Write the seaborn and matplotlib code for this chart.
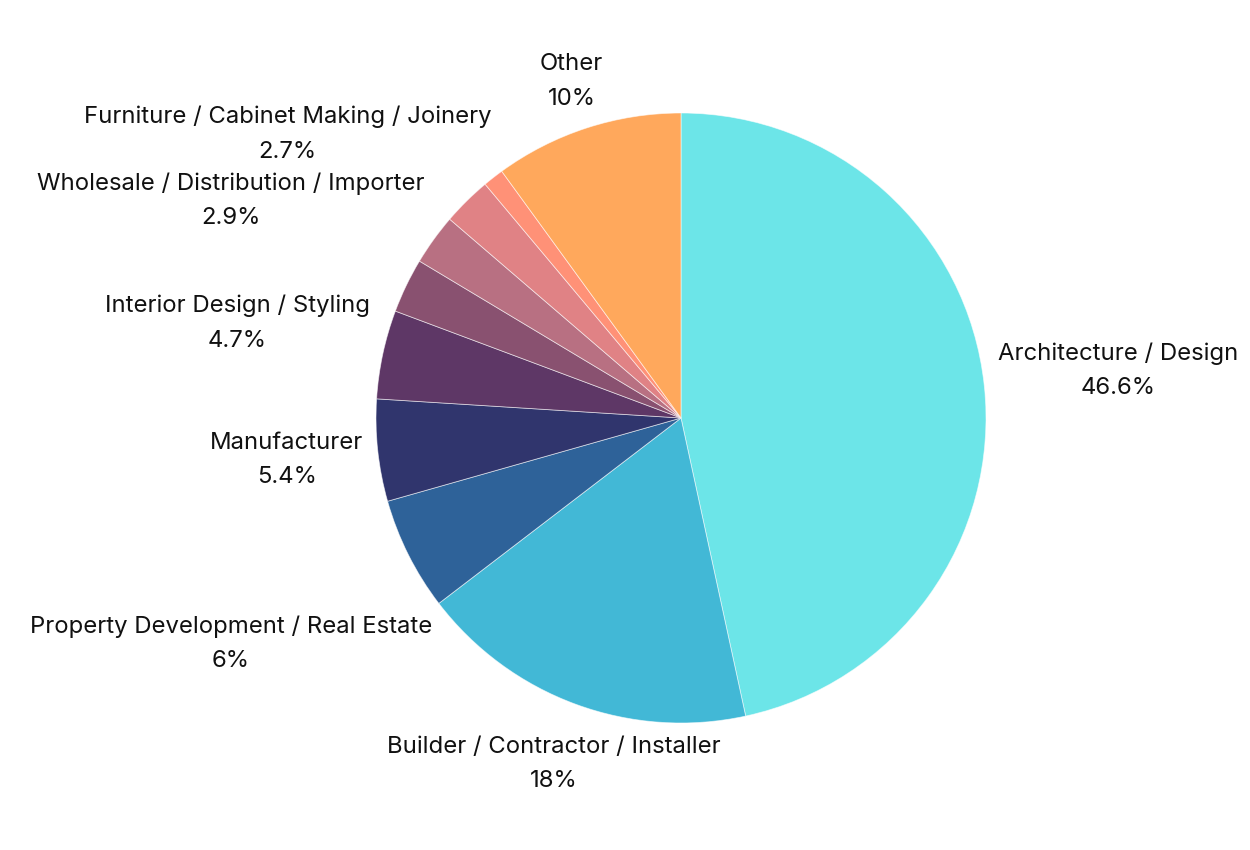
import numpy as np
import seaborn as sns
import matplotlib.pyplot as plt

# slices, clockwise from 12 o'clock
categories = [
    "Architecture / Design",
    "Builder / Contractor / Installer",
    "Property Development / Real Estate",
    "Manufacturer",
    "Interior Design / Styling",
    "Wholesale / Distribution / Importer",
    "Furniture / Cabinet Making / Joinery",
    "",
    "",
    "Other",
]
shares = [46.6, 18, 6, 5.4, 4.7, 2.9, 2.7, 2.6, 1.1, 10]
share_text = ["46.6%", "18%", "6%", "5.4%", "4.7%", "2.9%", "2.7%", "", "", "10%"]
colors = ["#6ce5e8", "#42b8d6", "#2e6299", "#30356d", "#5e3766",
          "#895170", "#b87082", "#e08285", "#ff9177", "#ffa85c"]

sns.set_theme(style="white")
plt.rcParams["font.family"] = ["Inter", "DejaVu Sans"]

W, H, DPI = 1250, 850, 100
fig = plt.figure(figsize=(W / DPI, H / DPI), dpi=DPI)
cx, cy, r_px = 681, 850 - 418, 305
ax = fig.add_axes([(cx - r_px) / W, (cy - r_px) / H, 2 * r_px / W, 2 * r_px / H])

wedges, _ = ax.pie(shares, colors=colors, startangle=90, counterclock=False,
                   radius=1, wedgeprops=dict(edgecolor=(1, 1, 1, 0.6), linewidth=0.6))
ax.set_xlim(-1, 1)
ax.set_ylim(-1, 1)
ax.axis("off")

fig.canvas.draw()
renderer = fig.canvas.get_renderer()
gap = 13
total = sum(shares)
start = 0.0
for name, val, pct in zip(categories, shares, share_text):
    mid = start + val / 2
    start += val
    if not name:
        continue
    ang = np.deg2rad(90 - mid / total * 360)
    ux, uy = np.cos(ang), np.sin(ang)
    t = fig.text(0, 0, f"{name}\n{pct}", ha="center", va="center",
                 multialignment="center", fontsize=17.2, linespacing=1.72,
                 color="#111111")
    bb = t.get_window_extent(renderer)
    a, b = bb.width / 2, bb.height / 2

    def nearest(d):
        px, py = d * ux, d * uy
        nx = 0 if abs(px) <= a else abs(px) - a
        ny = 0 if abs(py) <= b else abs(py) - b
        return np.hypot(nx, ny)

    lo, hi = 0.0, 2000.0
    for _ in range(60):
        m = (lo + hi) / 2
        if nearest(m) < r_px + gap:
            lo = m
        else:
            hi = m
    t.set_position(((cx + hi * ux) / W, (cy + hi * uy) / H))

fig.savefig("out.png", dpi=DPI, facecolor="white")
